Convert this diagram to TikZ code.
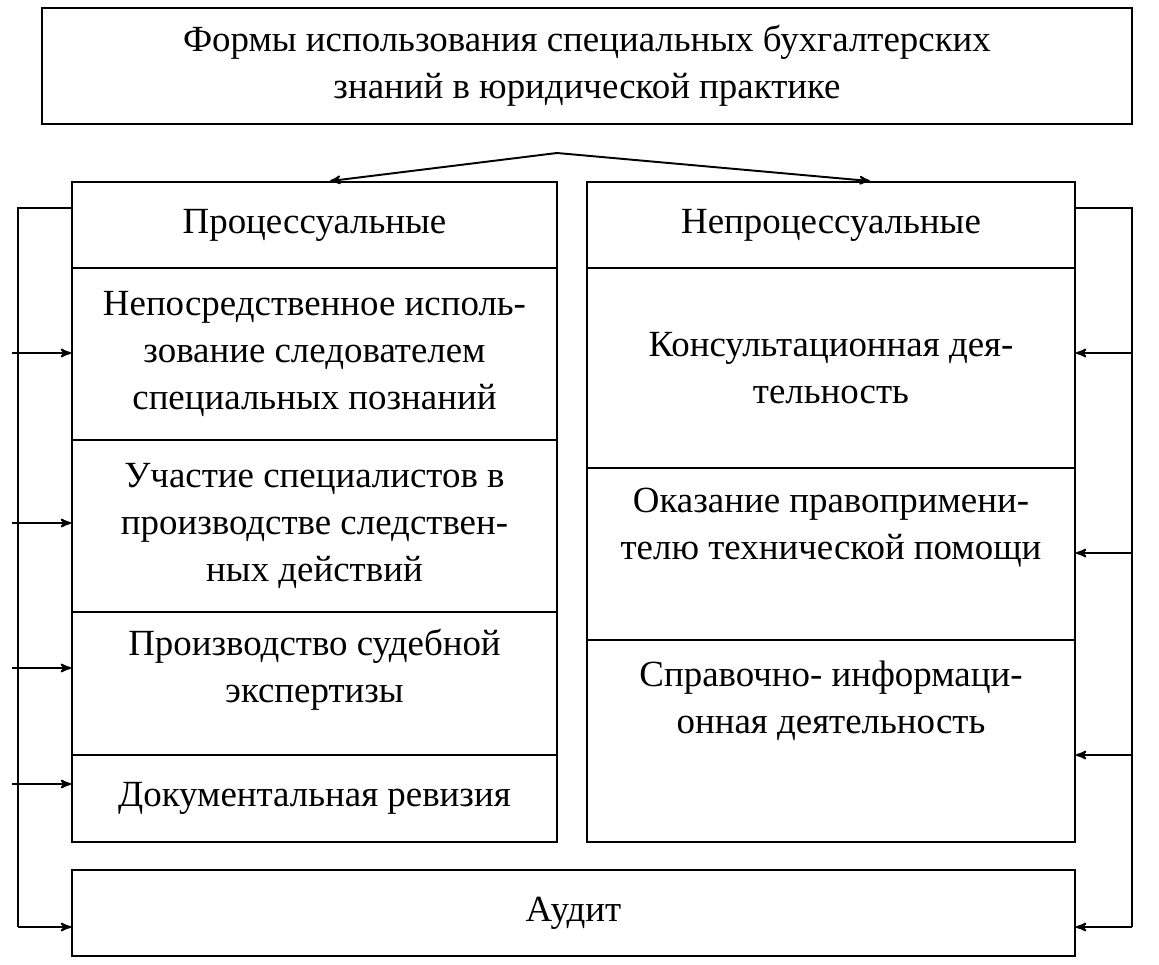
\documentclass[tikz,border=0pt]{standalone}
\usepackage{fontspec}
\setmainfont{Liberation Serif}
\usetikzlibrary{arrows,calc,positioning}
\tikzset{
  >=stealth'
}
\begin{document}
\begin{tikzpicture}[x=0.02cm,y=-0.02cm,line width=1.1pt,
        box/.style={rectangle,draw,inner sep=0pt,align=center},
        txt/.style={align=center},
        every node/.style={font=\fontsize{21}{26.7}\selectfont}
      ]
      \useasboundingbox (0,0) rectangle (1159,964);
      \node (TOP) at (587,66) [box,minimum width=21.8cm,minimum height=2.32cm] {Формы использования специальных бухгалтерских\\знаний в юридической практике};
      % left column
      \node (PR) at (314.5,225) [box,minimum width=9.7cm,minimum height=1.72cm] {Процессуальные};
      \node (L1) at (314.5,354) [box,minimum width=9.7cm,minimum height=3.44cm] {Непосредственное исполь-\\зование следователем\\специальных познаний};
      \node (L2) at (314.5,526) [box,minimum width=9.7cm,minimum height=3.44cm] {Участие специалистов в\\производстве следствен-\\ных действий};
      \node (L3) at (314.5,683.5) [box,minimum width=9.7cm,minimum height=2.86cm] {};
      \node (L3T) at (314.5,670) [txt] {Производство судебной\\экспертизы};
      \node (L4) at (314.5,798.5) [box,minimum width=9.7cm,minimum height=1.74cm] {Документальная ревизия};
      % right column
      \node (NP) at (831,225) [box,minimum width=9.76cm,minimum height=1.72cm] {Непроцессуальные};
      \node (R1) at (831,368) [box,minimum width=9.76cm,minimum height=4cm] {Консультационная дея-\\тельность};
      \node (R2) at (831,554) [box,minimum width=9.76cm,minimum height=3.44cm] {};
      \node (R2T) at (831,528) [txt] {Оказание правопримени-\\телю технической помощи};
      \node (R3) at (831,741) [box,minimum width=9.76cm,minimum height=4.04cm] {};
      \node (R3T) at (831,701) [txt] {Справочно- информаци-\\онная деятельность};
      \node (AUD) at (573.5,913) [box,minimum width=20.06cm,minimum height=1.72cm] {Аудит};
      % top arrows
      \coordinate (APEX) at (557,153);
      \draw[->] (APEX) -- (PR.north -| 330,0);
      \draw[->] (APEX) -- (NP.north -| 870,0);
      % left bracket
      \coordinate (LB) at (18,208);
      \coordinate (LE) at (18,927);
      \draw (PR.north west |- LB) -- (LB) -- (LE);
      \draw[->] (12,353) -- (L1.west |- 0,353);
      \draw[->] (12,523) -- (L2.west |- 0,523);
      \draw[->] (12,668) -- (L3.west |- 0,668);
      \draw[->] (12,784) -- (L4.west |- 0,784);
      \draw[->] (LE) -- (AUD.west |- LE);
      % right bracket
      \coordinate (RB) at (1132,208);
      \coordinate (RE) at (1132,927);
      \draw (NP.north east |- RB) -- (RB) -- (RE);
      \draw[->] (RB |- 0,353) -- (R1.east |- 0,353);
      \draw[->] (RB |- 0,553) -- (R2.east |- 0,553);
      \draw[->] (RB |- 0,755) -- (R3.east |- 0,755);
      \draw[->] (RE) -- (AUD.east |- RE);
    \end{tikzpicture}
\end{document}
